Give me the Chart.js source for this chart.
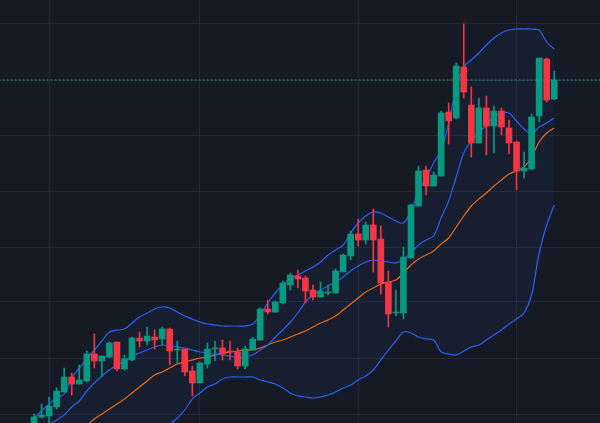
<!DOCTYPE html>
<html>
<head>
<meta charset="utf-8">
<script src="https://cdn.jsdelivr.net/npm/chart.js@4"></script>
<style>
  html, body { margin: 0; padding: 0; background: #161a25; }
  #wrap { width: 600px; height: 423px; }
</style>
</head>
<body>
<div id="wrap"><canvas id="chart"></canvas></div>
<script>
// candle data, one entry per bar
const open  = [0,6,7,16,31,46,39,42,69,62,66,81,54,63,85,82,86,84,94,73,74,52,40,59,74,75,72,71,57,73,83,114,111,120,138,147,145,133,126,130,130,151,167,189,183,198,184,141,110,110,165,217,253,237,247,311,305,356,318,280,315,297,312,295,281,252,254,307,364,324];
const close = [6,8,17,32,46,39,43,69,62,67,80,54,64,85,82,87,83,94,72,74,51,40,60,74,75,69,71,57,74,84,114,111,121,140,148,144,132,126,132,131,152,168,189,183,198,183,140,109,111,166,218,252,237,248,310,302,357,331,280,315,297,312,296,280,252,255,306,365,323,343];
const high  = [9,19,26,35,55,50,58,72,89,67,81,81,68,86,91,96,93,96,95,82,74,57,61,80,82,83,82,75,77,86,115,123,122,142,150,153,147,138,141,138,154,169,192,204,201,214,197,152,133,176,219,257,257,251,312,320,360,399,336,325,327,317,315,303,282,271,309,365,365,352];
const low   = [-2,5,0,14,31,28,39,41,55,46,65,52,53,62,76,78,74,78,58,60,47,27,40,55,62,63,63,54,54,73,83,109,111,119,133,135,120,123,126,128,130,151,163,177,179,151,129,96,107,104,165,217,228,237,247,279,304,325,266,280,268,270,288,269,233,245,253,301,321,323];

// bollinger bands + moving average
const upper  = [5,12,19,25,29,45,55,64,73,82,91,93,94,100,106,110,114,116,115,111,107,104,101,99,98,97,97,97,97,99,108,120,130,138,145,148,152,156,161,168,173,178,190,200,207,211,210,206,202,200,212,232,245,260,273,300,335,356,363,370,378,385,390,393,394,394,394,393,381,374];
const basis  = [-15,-8,-2,3,8,16,22,32,40,47,53,58,62,67,70,73,76,78,77,76,75,73,71,70,69,68,67,65,66,68,73,78,86,93,101,110,121,128,133,137,141,146,152,157,161,163,162,161,160,164,170,178,183,187,205,222,246,270,282,290,298,306,310,310,302,294,289,296,300,305];
const lower  = [-130,-120,-110,-100,-92,-84,-76,-68,-60,-52,-45,-38,-31,-25,-19,-13,-8,-4,-1,5,13,24,30,36,39,44,46,46,46,46,43,41,39,35,30,27,26,25,26,28,31,35,38,43,47,53,63,73,82,91,90,86,84,83,71,69,68,72,76,78,83,88,93,99,104,110,128,170,198,218];
const ma     = [-40,-35,-29,-23,-17,-11,-6,-2,4,9,14,19,24,30,36,42,48,51,55,59,61,63,65,66,68,70,71,72,73,73,75,78,81,83,86,89,92,96,100,103,107,113,119,125,131,135,139,141,143,150,158,164,168,172,179,185,196,207,217,224,230,237,243,249,252,256,266,281,290,295];

const yTicks = [9, 65, 121, 176, 232, 288, 343, 399];
const xTicks = [2, 22, 43, 64];

const UP = '#089981', DOWN = '#f23645';
const colors = open.map((o, i) => close[i] >= o ? UP : DOWN);
const pts = arr => arr.map((v, i) => ({ x: i, y: v }));
const last = close[close.length - 1];

const line = (data, color, extra) => Object.assign({
  type: 'line', data: pts(data), borderColor: color, borderWidth: 1.2,
  pointRadius: 0, tension: 0.3, order: 2, fill: false
}, extra || {});

new Chart(document.getElementById('chart'), {
  data: {
    datasets: [
      {
        type: 'bar', data: high.map((h, i) => ({ x: i, y: [low[i], h] })),
        backgroundColor: colors, barThickness: 1, grouped: false, order: 1
      },
      {
        type: 'bar', data: open.map((o, i) => ({ x: i, y: [o, close[i] === o ? o + 1 : close[i]] })),
        backgroundColor: colors, barThickness: 6, grouped: false, order: 0
      },
      line(upper, '#2962ff', { fill: '+1', backgroundColor: 'rgba(40,90,200,0.07)' }),
      line(lower, '#2962ff'),
      line(basis, '#2962ff'),
      line(ma, '#ff6d00'),
      line([], UP, {
        data: [{ x: -10, y: last }, { x: 80, y: last }],
        borderDash: [2, 2], borderWidth: 1, tension: 0, order: 3
      })
    ]
  },
  options: {
    responsive: true, maintainAspectRatio: false, animation: false,
    layout: { padding: 0 },
    plugins: { legend: { display: false }, tooltip: { enabled: false } },
    scales: {
      x: {
        type: 'linear', min: -4.51, max: 75.07, offset: false,
        ticks: { display: false }, border: { display: false },
        grid: { color: '#242833', drawTicks: false, offset: false },
        afterBuildTicks: s => { s.ticks = xTicks.map(v => ({ value: v })); }
      },
      y: {
        min: 0, max: 423,
        ticks: { display: false }, border: { display: false },
        grid: { color: '#242833', drawTicks: false },
        afterBuildTicks: s => { s.ticks = yTicks.map(v => ({ value: v })); }
      }
    }
  }
});
</script>
</body>
</html>
